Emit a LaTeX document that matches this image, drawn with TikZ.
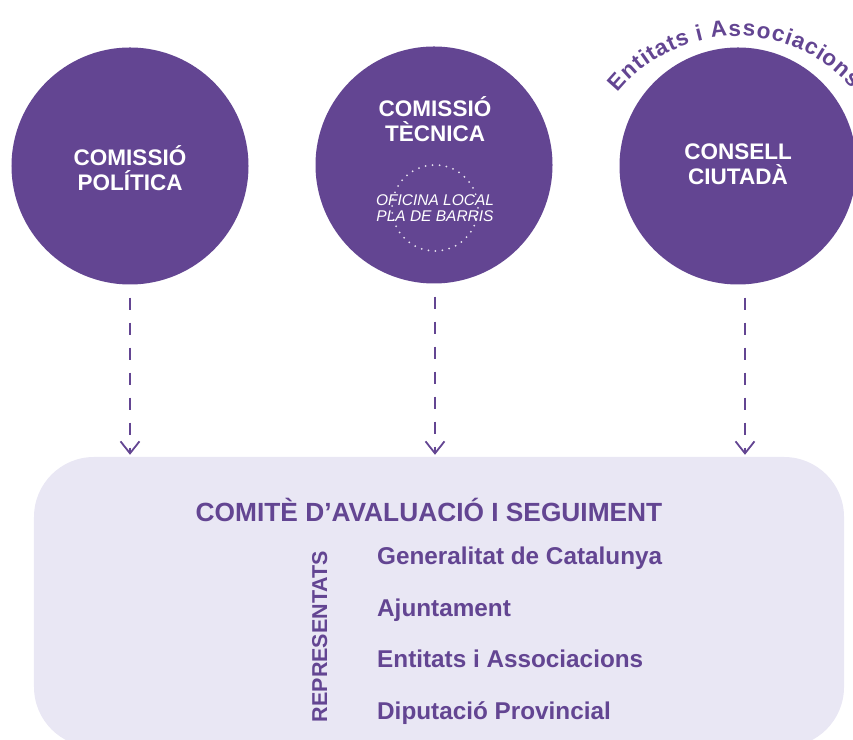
\documentclass[tikz,border=0pt]{standalone}
\usepackage{fontspec}
\setmainfont{Liberation Sans}
\usetikzlibrary{arrows.meta,decorations.text}
\definecolor{purp}{HTML}{634592}
\definecolor{boxfill}{HTML}{E9E7F4}
\newcommand{\arcfnt}{\fontsize{22.5bp}{24bp}\selectfont\bfseries}
\begin{document}
\begin{tikzpicture}[x=1bp,y=1bp,
  bigcirc/.style={circle, fill=purp, minimum size=237bp, inner sep=0pt},
  circtxt/.style={text=white, anchor=base, inner sep=0pt, font=\fontsize{22.5bp}{25bp}\selectfont\bfseries},
  officetxt/.style={text=white, anchor=base, inner sep=0pt, font=\fontsize{15.5bp}{17bp}\selectfont\itshape},
  conn/.style={draw=purp, line width=1.8bp, dash pattern=on 12bp off 13bp, -{Straight Barb[length=12bp,width=19bp,line width=1.8bp]}},
  bigbox/.style={rectangle, fill=boxfill, rounded corners=60bp, minimum width=810bp, minimum height=290bp, inner sep=0pt},
  titletxt/.style={text=purp, anchor=base, inner sep=0pt, font=\fontsize{26.3bp}{30bp}\selectfont\bfseries},
  itemtxt/.style={text=purp, anchor=base west, inner sep=0pt, font=\fontsize{24.3bp}{28bp}\selectfont\bfseries},
  reptxt/.style={text=purp, anchor=base, inner sep=0pt, rotate=90, font=\fontsize{21.5bp}{24bp}\selectfont\bfseries}]
\useasboundingbox (0,0) rectangle (853,740);

% big box
\node[bigbox] (box) at (439,138) {};

% circles
\node[bigcirc] (cp) at (130,574) {};
\node[bigcirc] (ct) at (434,575) {};
\node[bigcirc] (cc) at (738,574) {};

% circle texts
\node[circtxt] (cp1) at (130,574) {COMISSIÓ};
\node[circtxt] (cp2) at (130,549) {POLÍTICA};
\node[circtxt] (ct1) at (435,623) {COMISSIÓ};
\node[circtxt] (ct2) at (435,598) {TÈCNICA};
\node[circtxt] (cc1) at (738,580) {CONSELL};
\node[circtxt] (cc2) at (738,555) {CIUTADÀ};

% oficina local
\draw[white!85!purp, line width=2bp, dash pattern=on 0bp off 7bp, line cap=round] (435,532) circle[radius=43];
\node[officetxt] (of1) at (435,534) {OFICINA LOCAL};
\node[officetxt] (of2) at (435,518) {PLA DE BARRIS};

% arc text
\path[decorate, decoration={text effects along path, text={Entitats i Associacions},
    text effects/.cd, text along path, fit text to path,
    characters={text=purp, font=\arcfnt, inner sep=0pt}}]
  (737,551) ++(141:153) arc[start angle=141, end angle=41, radius=153];

% connectors
\draw[conn] ([yshift=-13bp]cp.south) -- ([yshift=2bp]cp.south |- box.north);
\draw[conn] ([xshift=1bp,yshift=-13bp]ct.south) -- ([xshift=1bp,yshift=2bp]ct.south |- box.north);
\draw[conn] ([xshift=7bp,yshift=-13bp]cc.south) -- ([xshift=7bp,yshift=2bp]cc.south |- box.north);

% box texts
\node[titletxt] (title) at (429,218) {COMITÈ D’AVALUACIÓ I SEGUIMENT};
\node[reptxt] (rep) at (327,103.5) {REPRESENTATS};
\node[itemtxt] (i1) at (377,175) {Generalitat de Catalunya};
\node[itemtxt] (i2) at (377,123) {Ajuntament};
\node[itemtxt] (i3) at (377,72) {Entitats i Associacions};
\node[itemtxt] (i4) at (377,20) {Diputació Provincial};
\end{tikzpicture}
\end{document}
